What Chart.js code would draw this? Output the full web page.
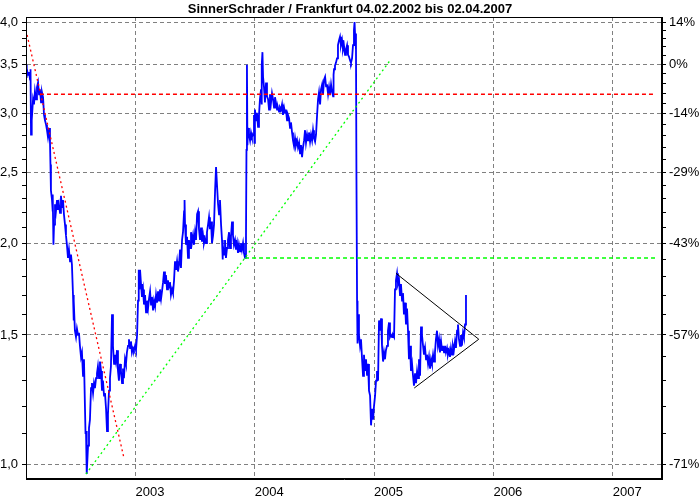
<!DOCTYPE html>
<html>
<head>
<meta charset="utf-8">
<script src="https://cdn.jsdelivr.net/npm/chart.js@4"></script>
<style>
  body{margin:0;background:#fff;}
  #wrap{width:700px;height:500px;}
</style>
</head>
<body>
<div id="wrap"><canvas id="chart" width="700" height="500"></canvas></div>
<script>
// SinnerSchrader daily closes (decimal year, EUR)
const dates = [
  2002.082,2002.086,2002.090,2002.099,2002.107,2002.116,2002.120,2002.124,2002.128,2002.132,
  2002.141,2002.149,2002.157,2002.166,2002.174,2002.183,2002.191,2002.199,2002.208,2002.216,
  2002.225,2002.233,2002.241,2002.250,2002.258,2002.266,2002.275,2002.283,2002.287,2002.291,
  2002.300,2002.304,2002.308,2002.312,2002.317,2002.325,2002.333,2002.342,2002.350,2002.358,
  2002.367,2002.375,2002.384,2002.392,2002.400,2002.409,2002.417,2002.425,2002.434,2002.442,
  2002.451,2002.459,2002.467,2002.476,2002.480,2002.484,2002.492,2002.501,2002.509,2002.518,
  2002.526,2002.534,2002.543,2002.551,2002.560,2002.568,2002.576,2002.581,2002.585,2002.589,
  2002.593,2002.602,2002.610,2002.618,2002.627,2002.635,2002.644,2002.652,2002.660,2002.669,
  2002.677,2002.685,2002.694,2002.702,2002.711,2002.719,2002.727,2002.736,2002.744,2002.753,
  2002.761,2002.769,2002.778,2002.786,2002.794,2002.803,2002.811,2002.820,2002.828,2002.836,
  2002.845,2002.853,2002.861,2002.870,2002.878,2002.887,2002.895,2002.903,2002.912,2002.920,
  2002.928,2002.937,2002.945,2002.954,2002.962,2002.970,2002.979,2002.987,2002.996,2003.004,
  2003.013,2003.021,2003.025,2003.029,2003.033,2003.038,
  2003.046,2003.054,2003.063,2003.071,2003.080,2003.088,2003.096,2003.105,2003.113,2003.122,
  2003.130,2003.138,2003.147,2003.155,2003.164,2003.172,2003.180,2003.189,2003.197,2003.205,
  2003.214,2003.222,2003.231,2003.239,2003.247,2003.255,2003.264,2003.272,2003.281,2003.289,
  2003.297,2003.306,2003.314,2003.323,2003.331,2003.339,2003.348,2003.356,2003.365,2003.373,
  2003.381,2003.390,2003.398,2003.407,2003.411,2003.415,2003.423,2003.432,2003.440,2003.448,
  2003.457,2003.465,2003.474,2003.482,2003.490,2003.499,2003.507,2003.516,2003.524,2003.532,
  2003.541,2003.549,2003.557,2003.566,2003.574,2003.583,2003.591,2003.599,2003.608,2003.616,
  2003.624,2003.633,2003.641,2003.650,2003.658,2003.667,2003.675,2003.683,2003.692,2003.700,
  2003.708,2003.717,2003.725,2003.729,2003.733,2003.742,2003.750,2003.758,2003.767,2003.775,
  2003.784,2003.792,2003.800,2003.809,2003.817,2003.825,2003.834,2003.842,2003.851,2003.859,
  2003.867,2003.876,2003.884,2003.892,2003.901,2003.909,2003.918,2003.926,2003.930,2003.934,
  2003.938,2003.943,2003.951,2003.960,2003.968,2003.976,2003.985,2003.993,2003.997,2004.001,
  2004.010,2004.018,2004.027,2004.035,2004.043,2004.052,2004.056,2004.060,2004.064,2004.069,
  2004.077,2004.085,2004.094,2004.102,2004.111,2004.119,2004.127,2004.136,2004.144,2004.153,
  2004.161,2004.169,2004.177,2004.186,2004.194,2004.203,2004.211,2004.219,2004.228,2004.236,
  2004.245,2004.253,2004.261,2004.270,2004.278,2004.287,2004.295,2004.303,2004.312,2004.320,
  2004.329,2004.337,2004.345,2004.354,2004.362,2004.371,2004.379,2004.387,2004.396,2004.404,
  2004.413,2004.421,2004.429,2004.438,2004.446,2004.454,2004.463,2004.471,2004.480,2004.488,
  2004.496,2004.505,2004.513,2004.522,2004.530,2004.538,2004.547,2004.555,2004.564,2004.572,
  2004.580,2004.589,2004.597,2004.605,2004.614,2004.622,2004.630,2004.639,2004.647,2004.656,
  2004.660,2004.664,2004.672,2004.680,2004.689,2004.697,2004.706,2004.714,2004.722,2004.731,
  2004.739,2004.747,2004.756,2004.764,2004.773,2004.781,2004.789,2004.798,2004.806,2004.815,
  2004.823,2004.831,2004.836,2004.840,2004.848,2004.852,2004.857,2004.861,2004.865,2004.873,
  2004.882,2004.890,2004.899,2004.907,2004.915,2004.924,2004.932,2004.941,2004.949,2004.957,
  2004.966,2004.974,2004.983,2004.991,2004.999,2005.008,2005.016,2005.024,2005.033,2005.041,
  2005.050,2005.058,2005.066,2005.075,2005.083,2005.091,2005.099,2005.108,2005.116,2005.125,
  2005.133,2005.141,2005.150,2005.158,2005.167,2005.175,2005.183,2005.192,2005.200,2005.209,
  2005.217,2005.225,2005.234,2005.242,2005.250,2005.259,2005.267,2005.276,2005.284,2005.292,
  2005.301,2005.309,2005.318,2005.326,2005.334,2005.343,2005.351,2005.360,2005.368,2005.376,
  2005.385,2005.393,2005.401,2005.410,2005.418,2005.427,2005.435,2005.443,2005.452,2005.460,
  2005.469,2005.477,2005.485,2005.494,2005.502,2005.510,2005.518,2005.527,2005.535,2005.544,
  2005.552,2005.561,2005.569,2005.577,2005.586,2005.594,2005.602,2005.611,2005.619,2005.628,
  2005.636,2005.644,2005.653,2005.661,2005.669,2005.678,2005.686,2005.695,2005.703,2005.711,
  2005.720,2005.728,2005.736,2005.745,2005.753,2005.762,2005.770
];
const closes = [
  3.50,3.36,3.46,3.39,3.42,3.34,3.45,2.81,3.04,2.94,
  3.14,3.09,3.22,3.14,3.26,3.31,3.19,3.24,3.11,3.21,
  3.16,2.99,2.94,2.90,2.85,2.79,2.87,2.75,2.56,2.36,
  2.29,2.21,2.33,1.99,2.12,2.26,2.21,2.29,2.22,2.26,
  2.20,2.32,2.24,2.29,2.19,2.12,2.05,1.99,1.91,1.96,
  1.89,1.93,1.87,1.70,1.57,1.67,1.52,1.49,1.53,1.50,
  1.51,1.45,1.40,1.42,1.32,1.39,1.20,1.10,1.11,1.03,
  0.97,1.06,1.12,1.15,1.27,1.29,1.25,1.29,1.27,1.31,
  1.33,1.36,1.31,1.38,1.34,1.26,1.30,1.24,1.25,1.19,
  1.11,1.17,1.26,1.31,1.36,1.60,1.45,1.37,1.41,1.38,
  1.43,1.34,1.30,1.37,1.34,1.29,1.35,1.31,1.39,1.37,
  1.42,1.45,1.48,1.44,1.47,1.42,1.44,1.43,1.45,1.43,
  1.50,1.67,1.77,1.84,1.73,1.84,
  1.76,1.69,1.73,1.65,1.70,1.61,1.67,1.63,1.68,1.72,
  1.65,1.69,1.62,1.67,1.64,1.70,1.66,1.72,1.67,1.73,
  1.68,1.72,1.77,1.83,1.76,1.81,1.73,1.78,1.74,1.77,
  1.70,1.73,1.71,1.78,1.89,1.84,1.89,1.83,1.87,1.96,
  1.85,2.02,2.07,2.21,2.29,2.12,1.99,2.04,1.91,2.02,
  1.97,2.07,2.01,2.05,1.99,2.07,2.02,2.19,2.21,2.09,
  2.02,2.10,2.01,2.05,2.00,2.03,2.00,2.07,2.12,2.17,
  2.09,2.14,2.00,2.05,2.12,2.36,2.54,2.40,2.26,2.19,
  2.29,2.12,2.02,1.90,1.99,1.93,2.02,1.91,1.97,2.02,
  2.07,1.97,2.04,2.14,2.05,1.99,2.02,1.96,2.00,1.94,
  1.99,1.95,2.00,1.96,2.00,1.94,1.91,2.04,2.68,3.50,
  2.72,2.87,2.81,2.76,2.83,2.79,2.81,2.99,2.74,3.04,
  2.94,3.01,2.88,2.99,3.14,3.24,3.09,3.50,3.64,3.37,
  3.26,3.11,3.31,3.17,3.14,3.04,3.19,3.11,3.20,3.14,
  3.06,3.16,3.11,3.04,3.06,3.02,3.06,3.04,3.09,2.99,
  3.06,3.01,3.04,2.94,2.99,2.96,2.87,2.92,2.83,2.76,
  2.71,2.78,2.72,2.76,2.70,2.74,2.65,2.72,2.62,2.70,
  2.76,2.85,2.74,2.81,2.76,2.83,2.75,2.81,2.76,2.85,
  2.78,2.75,2.81,2.99,3.14,3.21,3.09,3.24,3.29,3.19,
  3.34,3.37,3.27,3.29,3.19,3.26,3.18,3.29,3.22,3.17,
  3.39,3.45,3.49,3.52,3.57,3.72,3.78,3.82,3.72,3.78,
  3.67,3.72,3.61,3.67,3.72,3.61,3.59,3.55,3.52,3.57,
  3.72,3.90,4.00,3.86,3.67,2.44,1.67,1.46,1.60,1.50,
  1.45,1.48,1.39,1.32,1.41,1.34,1.39,1.32,1.37,1.26,
  1.24,1.13,1.19,1.15,1.20,1.24,1.30,1.34,1.30,1.57,
  1.52,1.58,1.45,1.38,1.42,1.39,1.43,1.45,1.52,1.56,
  1.49,1.50,1.49,1.50,1.49,1.73,1.78,1.82,1.76,1.78,
  1.70,1.76,1.67,1.71,1.60,1.66,1.55,1.63,1.52,1.39,
  1.45,1.34,1.37,1.32,1.28,1.33,1.29,1.34,1.31,1.39,
  1.32,1.54,1.50,1.45,1.41,1.44,1.39,1.41,1.37,1.40,
  1.35,1.39,1.37,1.41,1.38,1.42,1.48,1.52,1.45,1.48,
  1.42,1.47,1.43,1.45,1.42,1.45,1.42,1.44,1.41,1.43,
  1.40,1.44,1.41,1.45,1.43,1.47,1.44,1.52,1.55,1.48,
  1.45,1.50,1.45,1.51,1.49,1.55,1.70
];

// drawn-in analysis lines
const resistX = [2002.199, 2007.36];
const resistY = [3.19, 3.19];
const downTrendX = [2002.082, 2002.903];
const downTrendY = [3.90, 1.02];
const upTrendX = [2002.585, 2005.141];
const upTrendY = [0.97, 3.56];
const supportX = [2003.918, 2007.37];
const supportY = [1.91, 1.91];
const triangleX = [2005.183, 2005.877, 2005.336];
const triangleY = [1.82, 1.48, 1.27];

// axes
const yearTicks = [2003, 2004, 2005, 2006, 2007];
const priceTicks = [1.0, 1.5, 2.0, 2.5, 3.0, 3.5, 4.0];
const priceLabels = ['1,0', '1,5', '2,0', '2,5', '3,0', '3,5', '4,0'];
const pctLabels = ['-71%', '-57%', '-43%', '-29%', '-14%', '0%', '14%'];
const minorTicks = [1.1,1.2,1.3,1.4,1.6,1.7,1.8,1.9,2.1,2.2,2.3,2.4,2.6,2.7,2.8,2.9,3.1,3.2,3.3,3.4,3.6,3.7,3.8,3.9];

const FONT = '"Liberation Sans", Arial, sans-serif';
const GRID = '#808080';

function pts(xs, ys){ return xs.map((x,i)=>({x, y: ys[i]})); }

function isMajor(v){ return priceTicks.some(t => Math.abs(t - v) < 1e-6); }

function logTicks(scale){
  const all = priceTicks.concat(minorTicks).sort((a,b)=>a-b);
  scale.ticks = all.map(v => ({value: v}));
}

const frameAndTitle = {
  id: 'frameAndTitle',
  afterDraw(chart){
    const {ctx, chartArea: a} = chart;
    ctx.save();
    ctx.strokeStyle = '#000';
    ctx.lineWidth = 1;
    ctx.strokeRect(a.left + 0.5, a.top + 0.5, a.right - a.left - 1, a.bottom - a.top - 1);
    ctx.fillStyle = '#000';
    ctx.font = 'bold 13px ' + FONT;
    ctx.textAlign = 'center';
    ctx.textBaseline = 'alphabetic';
    ctx.fillText('SinnerSchrader / Frankfurt 04.02.2002 bis 02.04.2007', 350, 13);
    ctx.restore();
  }
};

const lineBase = { pointRadius: 0, tension: 0, fill: false, spanGaps: true };

new Chart(document.getElementById('chart'), {
  type: 'line',
  data: {
    datasets: [
      Object.assign({ data: pts(triangleX, triangleY), borderColor: '#000', borderWidth: 1 }, lineBase),
      Object.assign({ data: pts(resistX, resistY), borderColor: '#ff0000', borderWidth: 1.5, borderDash: [4,3] }, lineBase),
      Object.assign({ data: pts(downTrendX, downTrendY), borderColor: '#ff0000', borderWidth: 1.3, borderDash: [2,3] }, lineBase),
      Object.assign({ data: pts(supportX, supportY), borderColor: '#00ff00', borderWidth: 1.5, borderDash: [4,3] }, lineBase),
      Object.assign({ data: pts(upTrendX, upTrendY), borderColor: '#00ff00', borderWidth: 1.3, borderDash: [2,3] }, lineBase),
      Object.assign({ data: pts(dates, closes), borderColor: '#0000ff', borderWidth: 1.8 }, lineBase)
    ]
  },
  options: {
    responsive: false,
    animation: false,
    layout: { padding: { top: 17, left: 0, right: 0, bottom: 0 } },
    plugins: { legend: { display: false }, tooltip: { enabled: false }, title: { display: false } },
    scales: {
      x: {
        type: 'linear',
        min: 2002.082,
        max: 2007.413,
        afterBuildTicks: s => { s.ticks = yearTicks.map(v => ({value: v})); },
        afterFit: s => { s.height = 21; },
        grid: { color: GRID, lineWidth: 1, drawTicks: false },
        border: { display: true, color: '#000', dash: [4,3] },
        ticks: {
          autoSkip: false, maxRotation: 0, align: 'start', padding: 6,
          color: '#000', font: { family: FONT, size: 13 },
          callback: v => String(v)
        }
      },
      y: {
        type: 'logarithmic',
        position: 'left',
        min: 0.955,
        max: 4.064,
        afterBuildTicks: logTicks,
        afterFit: s => { s.width = 26; },
        grid: {
          color: c => (c.tick && isMajor(c.tick.value)) ? GRID : 'rgba(0,0,0,0)',
          lineWidth: 1, tickColor: '#000', tickLength: 4
        },
        border: { display: true, color: '#000', dash: [4,3] },
        ticks: {
          autoSkip: false, padding: 4, color: '#000', font: { family: FONT, size: 13 },
          callback: v => { const i = priceTicks.findIndex(t => Math.abs(t - v) < 1e-6); return i >= 0 ? priceLabels[i] : ''; }
        }
      },
      y2: {
        type: 'logarithmic',
        position: 'right',
        min: 0.955,
        max: 4.064,
        afterBuildTicks: logTicks,
        afterFit: s => { s.width = 38; },
        grid: { drawOnChartArea: false, tickColor: '#000', tickLength: 4 },
        border: { display: true, color: '#000' },
        ticks: {
          autoSkip: false, padding: 3, color: '#000', font: { family: FONT, size: 13 },
          callback: v => { const i = priceTicks.findIndex(t => Math.abs(t - v) < 1e-6); return i >= 0 ? pctLabels[i] : ''; }
        }
      }
    }
  },
  plugins: [frameAndTitle]
});
</script>
</body>
</html>
